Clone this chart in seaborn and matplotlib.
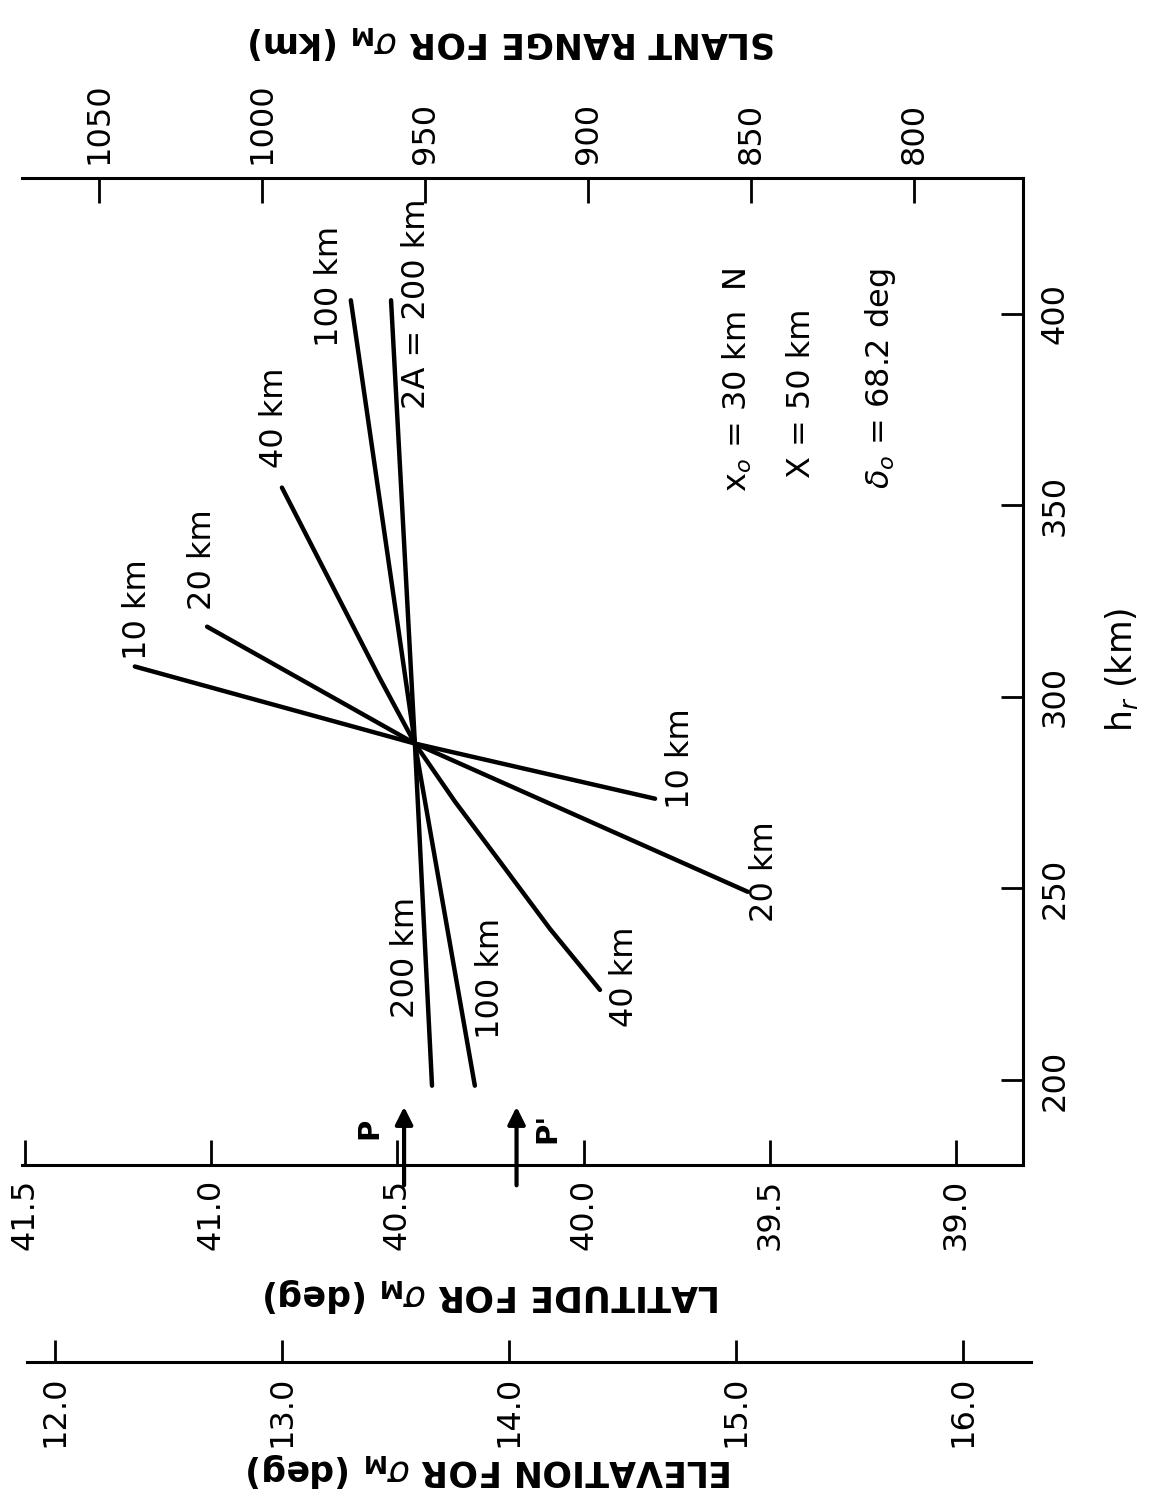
import matplotlib
matplotlib.use("Agg")
import matplotlib.pyplot as plt
import pandas as pd
import seaborn as sns

sns.set_theme(style="ticks")
plt.rcParams["font.family"] = ["DejaVu Sans"]
plt.rcParams["mathtext.fontset"] = "dejavusans"

# ---- axis tick values ----
lat_ticks = [41.5, 41.0, 40.5, 40.0, 39.5, 39.0]
hr_ticks = [200, 250, 300, 350, 400]
slant_ticks = [1050, 1000, 950, 900, 850, 800]
elev_ticks = [12.0, 13.0, 14.0, 15.0, 16.0]

# ---- baseline curves: latitude (deg) vs reflection height h_r (km) ----
lat_10 = [41.205, 40.453, 39.808]
hr_10 = [307.9, 287.8, 273.4]
lat_20 = [41.011, 40.453, 39.559]
hr_20 = [318.3, 287.8, 249.1]
lat_40 = [40.810, 40.547, 40.453, 40.345, 40.224, 40.090, 39.956]
hr_40 = [354.6, 304.8, 287.8, 272.6, 256.9, 239.4, 223.5]
lat_100 = [40.625, 40.453, 40.292]
hr_100 = [403.5, 287.8, 198.5]
lat_200 = [40.517, 40.453, 40.407]
hr_200 = [403.5, 287.8, 198.5]

# marked points on the latitude axis
mark_names = ["P", "P'"]
mark_lat = [40.482, 40.180]

curves = {"10 km": (lat_10, hr_10), "20 km": (lat_20, hr_20),
          "40 km": (lat_40, hr_40), "100 km": (lat_100, hr_100),
          "200 km": (lat_200, hr_200)}
rows = []
for name, (la, hr) in curves.items():
    for i, (a, b) in enumerate(zip(la, hr)):
        rows.append({"baseline": name, "order": i, "lat": a, "h_r": b})
df = pd.DataFrame(rows)

W, H = 1152, 1499
fig = plt.figure(figsize=(W / 100, H / 100), dpi=100)
fig.patch.set_facecolor("white")


def box(x0, y0, x1, y1):
    return [x0 / W, 1 - y1 / H, (x1 - x0) / W, (y1 - y0) / H]


FS = 23
LW_AX = 2.2

ax = fig.add_axes(box(22, 178, 1023, 1165))
sns.lineplot(data=df, x="lat", y="h_r", units="baseline", estimator=None,
             sort=False, color="black", lw=3.2, ax=ax, legend=False)
ax.set_xlim(41.508, 38.820)
ax.set_ylim(177.8, 435.4)
ax.set_xlabel("")
ax.set_ylabel("")

for s in ["left", "top"]:
    ax.spines[s].set_visible(False)
for s in ["bottom", "right"]:
    ax.spines[s].set_linewidth(LW_AX)
    ax.spines[s].set_color("black")

ax.set_xticks(lat_ticks)
ax.set_xticklabels([f"{v:.1f}" for v in lat_ticks], rotation=90)
ax.tick_params(axis="x", direction="in", length=18, width=2, pad=10,
               labelsize=FS, colors="black", top=False, bottom=True)

ax.yaxis.tick_right()
ax.set_yticks(hr_ticks)
ax.set_yticklabels([str(v) for v in hr_ticks], rotation=90, va="center")
ax.tick_params(axis="y", direction="in", length=16, width=2, pad=12,
               labelsize=FS, colors="black", left=False, right=True)

# slant range scale along the top edge
ax_top = ax.twiny()
ax_top.set_xlim(1073.6, 766.6)
ax_top.set_xticks(slant_ticks)
ax_top.set_xticklabels([str(v) for v in slant_ticks], rotation=90)
ax_top.tick_params(axis="x", direction="in", length=18, width=2, pad=10,
                   labelsize=FS, colors="black")
for s in ["left", "right", "bottom"]:
    ax_top.spines[s].set_visible(False)
ax_top.spines["top"].set_linewidth(LW_AX)
ax_top.spines["top"].set_color("black")

# elevation scale below the latitude scale
ax_el = fig.add_axes(box(27, 1361, 1031, 1362))
ax_el.set_xlim(11.877, 16.300)
ax_el.set_xticks(elev_ticks)
ax_el.set_xticklabels([f"{v:.1f}" for v in elev_ticks], rotation=90)
ax_el.tick_params(axis="x", direction="in", length=16, width=2, pad=10,
                  labelsize=FS, colors="black")
ax_el.set_yticks([])
ax_el.patch.set_visible(False)
for s in ["left", "right", "top"]:
    ax_el.spines[s].set_visible(False)
ax_el.spines["bottom"].set_linewidth(LW_AX)
ax_el.spines["bottom"].set_color("black")

# curve labels
labels = [
    ("10 km", 41.199, 322.8), ("20 km", 41.022, 335.8), ("40 km", 40.829, 372.9),
    ("100 km", 40.681, 407.2), ("2A = 200 km", 40.448, 402.5),
    ("10 km", 39.741, 283.9), ("20 km", 39.513, 254.3), ("40 km", 39.889, 226.9),
    ("100 km", 40.251, 226.4), ("200 km", 40.477, 232.1),
]
for txt, la, hr in labels:
    ax.text(la, hr, txt, rotation=90, ha="center", va="center", fontsize=FS,
            color="black")

# parameters
ax.text(39.588, 382.9, r"x$_o$ = 30 km  N", rotation=90, ha="center",
        va="center", fontsize=FS, color="black")
ax.text(39.414, 379.2, "X = 50 km", rotation=90, ha="center", va="center",
        fontsize=FS, color="black")
ax.text(39.204, 383.1, r"$\delta_o$ = 68.2 deg", rotation=90, ha="center",
        va="center", fontsize=FS, color="black")

# P and P' arrows
offsets = [0.092, -0.084]
for name, la, off in zip(mark_names, mark_lat, offsets):
    ax.annotate("", xy=(la, 193.0), xytext=(la, 172.5),
                arrowprops=dict(arrowstyle="-|>", lw=3, color="black",
                                mutation_scale=26, shrinkA=0, shrinkB=0),
                annotation_clip=False)
    ax.text(la + off, 187.5, name, rotation=90, ha="center", va="center",
            fontsize=FS - 2, color="black", fontweight="bold")

# axis titles
TFS = 25


def ftext(x, y, s, rot, weight="bold"):
    fig.text(x / W, 1 - y / H, s, rotation=rot, ha="center", va="center",
             fontsize=TFS, color="black", fontweight=weight)


ftext(512, 42, r"SLANT RANGE FOR $\sigma_\mathbf{M}$ (km)", 180)
ftext(492, 1295, r"LATITUDE FOR $\sigma_\mathbf{M}$ (deg)", 180)
ftext(490, 1470, r"ELEVATION FOR $\sigma_\mathbf{M}$ (deg)", 180)
ftext(1122, 670, r"h$_r$ (km)", 90, weight="normal")

fig.savefig("out.png", dpi=100, facecolor="white")
